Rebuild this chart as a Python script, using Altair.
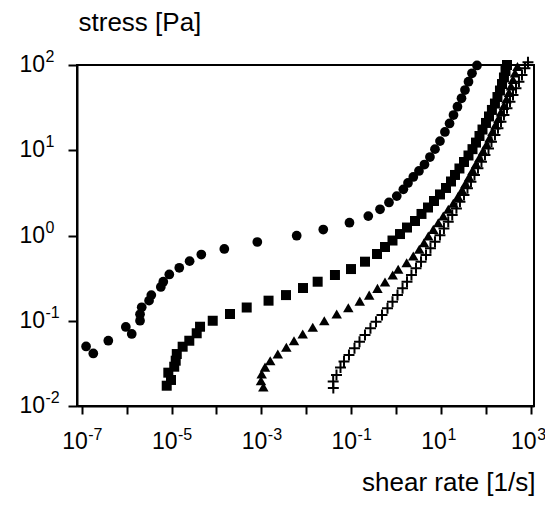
import altair as alt
import pandas as pd

# ---- data (shear rate [1/s], stress [Pa]) ----
circle_rate = [1.25e-7, 1.81e-7, 3.91e-7, 9.6e-7, 1.30e-6, 1.99e-6, 1.99e-6, 2.17e-6, 3.16e-6, 3.55e-6,
               5.78e-6, 6.56e-6, 8.93e-6, 1.49e-5, 2.53e-5, 4.61e-5, 1.50e-4, 8.15e-4, 6.14e-3, 0.0240,
               0.0920, 0.2415, 0.441, 0.698, 1.04, 1.46, 1.85, 2.43, 3.25, 4.31,
               5.71, 7.39, 9.55, 12.3, 15.6, 19.1, 23.4, 28.8, 34.4, 41.2, 49.3, 63.7]
circle_stress = [0.0499, 0.0413, 0.0583, 0.0845, 0.070, 0.100, 0.119, 0.144, 0.172, 0.200,
                 0.249, 0.287, 0.349, 0.418, 0.500, 0.598, 0.695, 0.839, 0.995, 1.175,
                 1.413, 1.69, 2.03, 2.44, 2.90, 3.48, 4.13, 4.86, 5.71, 6.80,
                 8.33, 10.3, 12.8, 16.4, 20.6, 25.9, 32.4, 40.7, 50.9, 63.7, 80.0, 98.7]

square_rate = [7.82e-6, 9.75e-6, 8.49e-6, 1.15e-5, 1.24e-5, 1.31e-5, 1.77e-5, 2.49e-5, 3.64e-5, 4.32e-5,
               8.28e-5, 2.01e-4, 4.73e-4, 1.45e-3, 3.55e-3, 8.49e-3, 0.0180, 0.0437, 0.0995, 0.204,
               0.378, 0.569, 0.836, 1.23, 1.76, 2.65, 3.70, 5.16, 7.02, 9.55,
               13.0, 16.8, 20.6, 25.9, 32.7, 41.2, 50.6, 60.5, 72.4, 84.5,
               101, 118, 137, 160, 182, 207, 230, 254, 275, 297]
square_stress = [0.0173, 0.0202, 0.0246, 0.0289, 0.0340, 0.0407, 0.0496, 0.0583, 0.0713, 0.0851,
                 0.100, 0.120, 0.143, 0.172, 0.200, 0.242, 0.287, 0.344, 0.404, 0.493,
                 0.607, 0.733, 0.873, 1.04, 1.24, 1.48, 1.79, 2.13, 2.54, 3.03,
                 3.61, 4.30, 5.13, 6.11, 7.28, 8.68, 10.3, 12.3, 14.7, 17.5,
                 20.9, 24.9, 29.7, 35.3, 42.1, 50.2, 59.8, 71.4, 85.1, 100]

triangle_rate = [1.11e-3, 9.84e-4, 1.02e-3, 1.21e-3, 1.58e-3, 2.33e-3, 3.61e-3, 5.35e-3, 8.36e-3, 0.0140,
                 0.0253, 0.0478, 0.0867, 0.156, 0.253, 0.387, 0.569, 0.845, 1.12, 1.73,
                 2.43, 3.30, 4.21, 5.24, 6.78, 8.75, 11.3, 14.6, 18.9, 24.0,
                 29.5, 35.3, 42.3, 50.6, 60.5, 72.4, 86.7, 104, 121, 141,
                 164, 192, 218, 254, 289, 329, 364, 404, 447, 508]
triangle_stress = [0.0167, 0.0198, 0.0237, 0.0286, 0.0340, 0.0407, 0.0489, 0.0583, 0.070, 0.0838,
                   0.100, 0.120, 0.142, 0.170, 0.200, 0.240, 0.285, 0.344, 0.402, 0.480,
                   0.575, 0.689, 0.824, 0.986, 1.18, 1.41, 1.69, 2.03, 2.39, 2.87,
                   3.42, 4.07, 4.86, 5.78, 6.90, 8.22, 9.80, 11.7, 13.9, 16.6,
                   19.8, 23.6, 28.1, 33.5, 39.9, 47.6, 56.7, 67.6, 80.5, 96.0]

cross_rate = [0.0402, 0.0399, 0.0473, 0.0581, 0.0695, 0.0897, 0.119, 0.154, 0.204, 0.270,
              0.359, 0.488, 0.647, 0.836, 1.08, 1.40, 1.76, 2.21, 2.79, 3.61,
              4.66, 5.86, 7.39, 9.55, 11.7, 14.6, 17.9, 22.2, 26.6, 32.7,
              39.1, 46.8, 56.0, 67.0, 80.2, 95.9, 115, 134, 160, 187,
              218, 254, 297, 346, 404, 471, 548, 640, 746, 871]
cross_stress = [0.0163, 0.0194, 0.0231, 0.0283, 0.0333, 0.0396, 0.0475, 0.0568, 0.0681, 0.0815,
                0.0975, 0.117, 0.140, 0.167, 0.200, 0.240, 0.287, 0.344, 0.412, 0.493,
                0.590, 0.708, 0.846, 1.01, 1.21, 1.45, 1.74, 2.08, 2.49, 2.99,
                3.58, 4.28, 5.13, 6.14, 7.34, 8.80, 10.5, 12.6, 15.1, 18.1,
                21.6, 25.9, 31.0, 37.1, 44.5, 53.3, 63.7, 76.3, 91.5, 108]

# axes: tick positions and the labels (base "10" with a superscript exponent)
x_ticks = [1e-7, 1e-6, 1e-5, 1e-4, 1e-3, 1e-2, 1e-1, 1e0, 1e1, 1e2, 1e3]
x_label_values = [1e-7, 1e-5, 1e-3, 1e-1, 1e1, 1e3]
x_label_exps = ["-7", "-5", "-3", "-1", "1", "3"]
y_ticks = [1e-2, 1e-1, 1e0, 1e1, 1e2]
y_label_exps = ["-2", "-1", "0", "1", "2"]
x_domain = [7.85e-8, 1186]
y_domain = [1e-2, 1e2]

FONT = "Liberation Sans"
W, H = 457, 341
BASE_SIZE, EXP_SIZE = 23, 16

x_enc = alt.X(
    "rate:Q",
    scale=alt.Scale(type="log", domain=x_domain, nice=False),
    axis=alt.Axis(
        values=x_ticks, labels=False,
        title="shear rate [1/s]", titleAnchor="end", titleAlign="right",
        titleX=W + 1, titleY=84, titleBaseline="alphabetic", tickSize=8,
    ),
)
y_enc = alt.Y(
    "stress:Q",
    scale=alt.Scale(type="log", domain=y_domain, nice=False),
    axis=alt.Axis(
        values=y_ticks, labels=False,
        title="stress [Pa]", titleAngle=0, titleAlign="left", titleAnchor="start",
        titleX=1, titleY=-35, titleBaseline="alphabetic", tickSize=9,
    ),
)


def series(rates, stresses, shape, size, filled, stroke_width=0):
    df = pd.DataFrame({"rate": rates, "stress": stresses})
    if filled:
        mark = alt.Chart(df).mark_point(shape=shape, size=size, filled=True,
                                        color="black", opacity=1)
    else:
        mark = alt.Chart(df).mark_point(shape=shape, size=size, filled=False,
                                        color="black", opacity=1, strokeWidth=stroke_width)
    return mark.encode(x=x_enc, y=y_enc)


def x_labels(values, exps, shift):
    df = pd.DataFrame({"rate": values, "base": ["10"] * len(values), "exp": exps})
    base = alt.Chart(df).mark_text(align="right", baseline="alphabetic", dx=shift,
                                   font=FONT, fontSize=BASE_SIZE, color="black"
                                   ).encode(x=x_enc, y=alt.value(H + 43), text="base:N")
    exp = alt.Chart(df).mark_text(align="left", baseline="alphabetic", dx=shift + 0.5, dy=-9,
                                  font=FONT, fontSize=EXP_SIZE, color="black"
                                  ).encode(x=x_enc, y=alt.value(H + 43), text="exp:N")
    return [base, exp]


neg = [(v, e) for v, e in zip(x_label_values, x_label_exps) if e.startswith("-")]
pos = [(v, e) for v, e in zip(x_label_values, x_label_exps) if not e.startswith("-")]

y_df = pd.DataFrame({"stress": y_ticks, "base": ["10"] * len(y_ticks), "exp": y_label_exps})
y_base = alt.Chart(y_df).mark_text(align="right", baseline="middle", font=FONT,
                                   fontSize=BASE_SIZE, color="black"
                                   ).encode(x=alt.value(-32), y=y_enc, text="base:N")
y_exp = alt.Chart(y_df).mark_text(align="left", baseline="middle", dy=-8, font=FONT,
                                  fontSize=EXP_SIZE, color="black"
                                  ).encode(x=alt.value(-31.5), y=y_enc, text="exp:N")

chart = alt.layer(
    series(circle_rate, circle_stress, "circle", 95, True),
    series(square_rate, square_stress, "square", 100, True),
    series(triangle_rate, triangle_stress, "triangle-up", 110, True),
    series(cross_rate, cross_stress, "M-1,0L1,0M0,-1L0,1", 120, False, 2),
    *x_labels([v for v, _ in neg], [e for _, e in neg], 6),
    *x_labels([v for v, _ in pos], [e for _, e in pos], 6),
    y_base, y_exp,
).properties(
    width=W, height=H,
    autosize=alt.AutoSizeParams(type="none"),
    padding={"left": 69, "top": 57, "right": 11, "bottom": 90},
    background="white",
).configure_view(
    stroke="black", strokeWidth=2
).configure_axis(
    grid=False, domainColor="black", domainWidth=2, tickColor="black", tickWidth=2,
    titleFont=FONT, titleFontSize=26, titleFontWeight="normal", titleColor="black",
)

chart.save("out.html", embed_options={"renderer": "svg", "actions": False})
